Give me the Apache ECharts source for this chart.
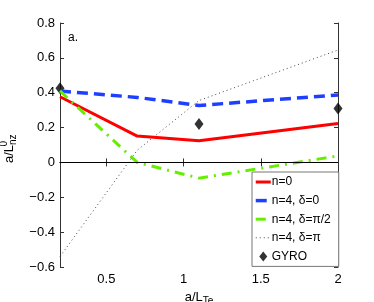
<!DOCTYPE html>
<html><head><meta charset="utf-8">
<script src="https://cdn.jsdelivr.net/npm/echarts@6/dist/echarts.min.js"></script>
<style>html,body{margin:0;padding:0;background:#fff}#c{width:374px;height:302px}</style>
</head><body><div id="c"></div>
<script>
const xs = [0.2, 0.7, 1.1, 2.0];
const n0 = [0.377, 0.151, 0.125, 0.224];
const n4d0 = [0.41, 0.373, 0.327, 0.387];
const n4dpi2 = [0.41, 0.0, -0.09, 0.037];
const n4dpi = [-0.54, 0.07, 0.355, 0.645];
const gyroX = [0.2, 1.1, 2.0];
const gyroY = [0.425, 0.22, 0.31];
const xTicks = [0.5, 1, 1.5, 2];
const names = ['n=0', 'n=4, δ=0', 'n=4, δ=π/2', 'n=4, δ=π', 'GYRO'];

const pair = (a, b) => a.map((v, i) => [v, b[i]]);
const font = 'Liberation Sans, Arial, sans-serif';
const chart = echarts.init(document.getElementById('c'));
const axisLine = {show: true, lineStyle: {color: '#333', width: 1}};
const tick = {show: true, inside: true, length: 4, lineStyle: {color: '#333'}};
const diamondIcon = 'path://M0,0 L0,0 Z M15,12 L15,12 Z M7.5,1 L11.5,6 L7.5,11 L3.5,6 Z';
chart.setOption({
  animation: false,
  grid: {left: 60, right: 36, top: 23, bottom: 35, outerBoundsMode: 'none', containLabel: false},
  xAxis: [
    {type: 'value', min: 0.2, max: 2, axisLine, splitLine: {show: false},
      axisLabel: {customValues: xTicks, color: '#000', fontSize: 13, fontFamily: font, margin: 6,
        formatter: v => String(v)},
      axisTick: Object.assign({customValues: xTicks}, tick),
      name: '{a|a/L}{s|Te}', nameLocation: 'middle', nameGap: 15,
      nameTextStyle: {rich: {a: {fontSize: 13, fontFamily: font, color: '#000'},
        s: {fontSize: 10, fontFamily: font, color: '#000', padding: [8, 0, 0, 0]}}}
    },
    {type: 'value', min: 0.2, max: 2, position: 'top', axisLine, splitLine: {show: false},
      axisLabel: {show: false},
      axisTick: Object.assign({customValues: xTicks}, tick)}
  ],
  yAxis: [
    {type: 'value', min: -0.6, max: 0.8, interval: 0.2, axisLine, axisTick: tick, splitLine: {show: false},
      axisLabel: {color: '#000', fontSize: 13, fontFamily: font, margin: 5,
        formatter: v => v === 0 ? '0' : (v < 0 ? '\u2212' + Math.abs(v).toFixed(1) : v.toFixed(1))},
      name: '{a|a/L}{s|nz}{p|0}', nameLocation: 'middle', nameGap: 35,
      nameTextStyle: {padding: [0, 14, 0, 0], rich: {a: {fontSize: 13, fontFamily: font, color: '#000'},
        s: {fontSize: 10, fontFamily: font, color: '#000', padding: [8, 0, 0, 0]},
        p: {fontSize: 10, fontFamily: font, color: '#000', padding: [0, 0, 10, -12]}}}
    },
    {type: 'value', min: -0.6, max: 0.8, interval: 0.2, position: 'right', axisLine, axisTick: tick,
      splitLine: {show: false}, axisLabel: {show: false}}
  ],
  title: {text: 'a.', left: 63, top: 27, textStyle: {fontSize: 12, fontWeight: 'normal', fontFamily: font, color: '#000'}},
  legend: {
    orient: 'vertical', left: 252, top: 172,
    backgroundColor: '#fff', borderColor: '#777', borderWidth: 1,
    padding: [4, 8, 4, 2], itemGap: 6.6, itemWidth: 15, itemHeight: 12,
    textStyle: {fontSize: 12, fontFamily: font, color: '#000', padding: [0, 0, 0, -4]},
    lineStyle: {width: 'inherit'},
    data: names.map((n, i) => i < 4 ? {name: n, itemStyle: {opacity: 0}} : {name: n, icon: diamondIcon})
  },
  series: [
    {name: names[0], type: 'line', data: pair(xs, n0), showSymbol: false, symbol: 'none',
      lineStyle: {color: '#ff0000', width: 3}, itemStyle: {color: '#ff0000'},
      markLine: {silent: true, symbol: 'none', label: {show: false},
        lineStyle: {color: '#000', width: 1, type: 'solid'}, data: [{yAxis: 0}]}},
    {name: names[1], type: 'line', data: pair(xs, n4d0), showSymbol: false, symbol: 'none',
      lineStyle: {color: '#1f3fff', width: 3.5, type: [11, 6]}, itemStyle: {color: '#1f3fff'}},
    {name: names[2], type: 'line', data: pair(xs, n4dpi2), showSymbol: false, symbol: 'none',
      lineStyle: {color: '#66ee00', width: 3, type: [10, 6, 2, 6]}, itemStyle: {color: '#66ee00'}},
    {name: names[3], type: 'line', data: pair(xs, n4dpi), showSymbol: false, symbol: 'none',
      lineStyle: {color: '#444', width: 1, type: [1, 3]}, itemStyle: {color: '#444'}},
    {name: names[4], type: 'scatter', data: pair(gyroX, gyroY), symbol: 'diamond', symbolSize: [9, 12],
      itemStyle: {color: '#000'}}
  ]
});
</script></body></html>
